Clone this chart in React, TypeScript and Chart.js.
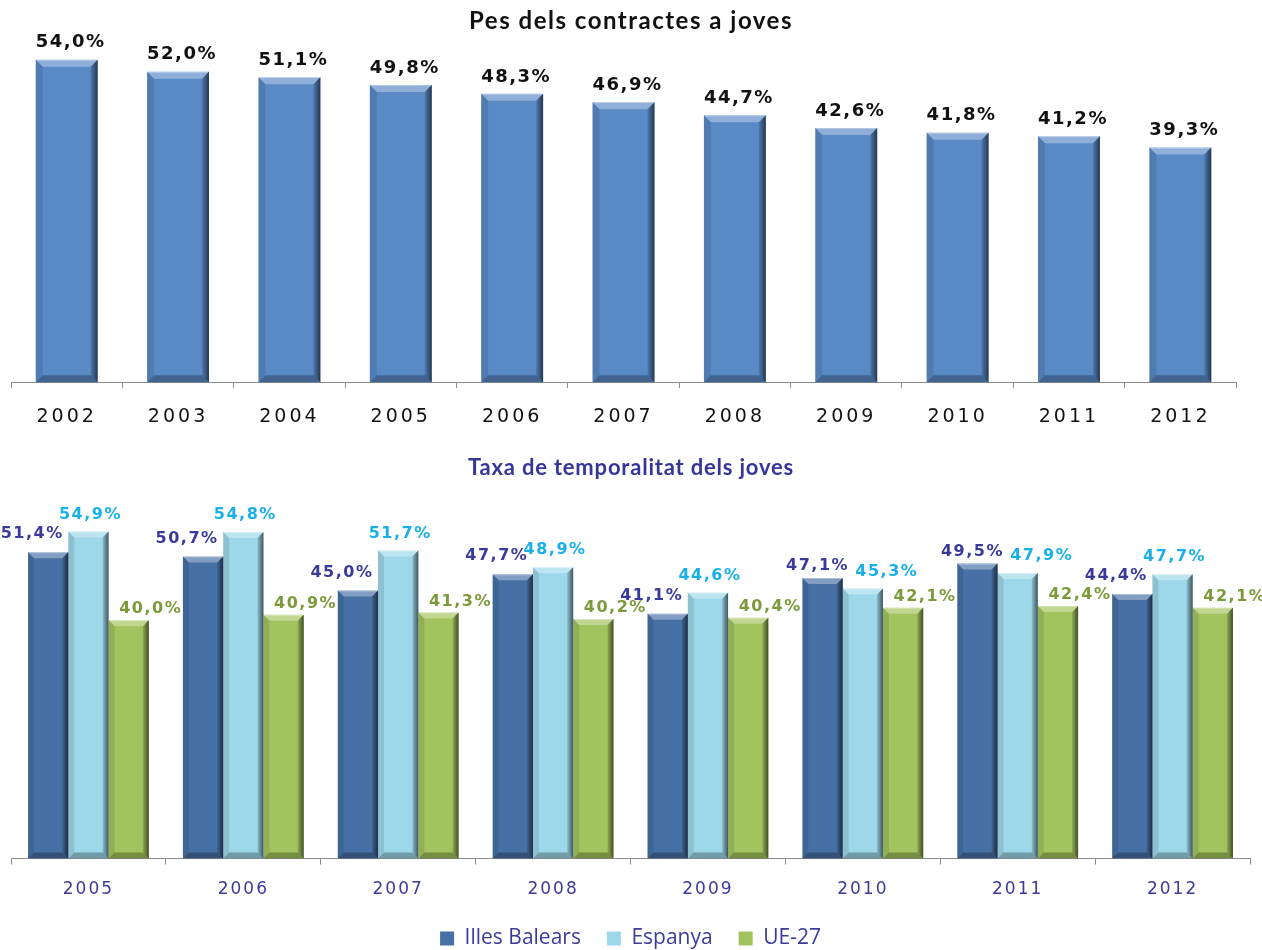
import React, { useEffect, useRef } from "react";
import { Chart, registerables } from "chart.js";

Chart.register(...registerables);

// ---------- data ----------
const title1 = "Pes dels contractes a joves";
const years1 = ["2002", "2003", "2004", "2005", "2006", "2007", "2008", "2009", "2010", "2011", "2012"];
const pesContractes = [54.0, 52.0, 51.1, 49.8, 48.3, 46.9, 44.7, 42.6, 41.8, 41.2, 39.3];

const title2 = "Taxa de temporalitat dels joves";
const years2 = ["2005", "2006", "2007", "2008", "2009", "2010", "2011", "2012"];
const seriesNames = ["Illes Balears", "Espanya", "UE-27"];
const illesBalears = [51.4, 50.7, 45.0, 47.7, 41.1, 47.1, 49.5, 44.4];
const espanya = [54.9, 54.8, 51.7, 48.9, 44.6, 45.3, 47.9, 47.7];
const ue27 = [40.0, 40.9, 41.3, 40.2, 40.4, 42.1, 42.4, 42.1];

const fmt = (v: number) => v.toFixed(1).replace(".", ",") + "%";

function drawBevel(ctx: CanvasRenderingContext2D, el: any, b: number) {
  const p = el.getProps(["x", "y", "base", "width"], true);
  const L = p.x - p.width / 2;
  const R = p.x + p.width / 2;
  const T = Math.min(p.y, p.base);
  const B = Math.max(p.y, p.base);
  if (B - T < 2 * b) return;
  ctx.save();
  // top highlight
  ctx.beginPath();
  ctx.moveTo(L, T); ctx.lineTo(R, T); ctx.lineTo(R - b, T + b); ctx.lineTo(L + b, T + b); ctx.closePath();
  ctx.fillStyle = "rgba(255,255,255,0.32)";
  ctx.fill();
  // left
  ctx.beginPath();
  ctx.moveTo(L, T); ctx.lineTo(L + b, T + b); ctx.lineTo(L + b, B - b); ctx.lineTo(L, B); ctx.closePath();
  ctx.fillStyle = "rgba(0,0,0,0.10)";
  ctx.fill();
  // right
  const g = ctx.createLinearGradient(R - b, 0, R, 0);
  g.addColorStop(0, "rgba(0,0,0,0.12)");
  g.addColorStop(1, "rgba(0,0,0,0.6)");
  ctx.beginPath();
  ctx.moveTo(R, T); ctx.lineTo(R - b, T + b); ctx.lineTo(R - b, B - b); ctx.lineTo(R, B); ctx.closePath();
  ctx.fillStyle = g;
  ctx.fill();
  // bottom
  ctx.beginPath();
  ctx.moveTo(L, B); ctx.lineTo(R, B); ctx.lineTo(R - b, B - b); ctx.lineTo(L + b, B - b); ctx.closePath();
  ctx.fillStyle = "rgba(0,0,0,0.28)";
  ctx.fill();
  // top edge light line
  ctx.strokeStyle = "rgba(255,255,255,0.35)";
  ctx.lineWidth = 1;
  ctx.beginPath();
  ctx.moveTo(L + 1, T + 0.5); ctx.lineTo(R - 1, T + 0.5);
  ctx.stroke();
  ctx.restore();
}

type Cfg = {
  title: string;
  titleColor: string;
  titleFont: string;
  titleSpacing: string;
  titleY: number;
  bevel: number;
  labelFont: string;
  labelSpacing: string;
  labelColors: string[];
  labelOffset: (di: number, i: number) => [number, number];
  tickSpacing: string;
};

function excelPlugin(cfg: Cfg) {
  return {
    id: "excelLook",
    afterDatasetsDraw(chart: any) {
      const ctx: CanvasRenderingContext2D = chart.ctx;
      chart.data.datasets.forEach((ds: any, di: number) => {
        const meta = chart.getDatasetMeta(di);
        meta.data.forEach((el: any) => drawBevel(ctx, el, cfg.bevel));
      });
      ctx.save();
      (ctx as any).letterSpacing = cfg.labelSpacing;
      ctx.font = cfg.labelFont;
      ctx.textAlign = "center";
      ctx.textBaseline = "middle";
      chart.data.datasets.forEach((ds: any, di: number) => {
        const meta = chart.getDatasetMeta(di);
        ctx.fillStyle = cfg.labelColors[di];
        meta.data.forEach((el: any, i: number) => {
          const p = el.getProps(["x", "y"], true);
          const [dx, dy] = cfg.labelOffset(di, i);
          const txt = fmt(ds.data[i]);
          const w = ctx.measureText(txt).width;
          let cx = p.x + dx;
          if (cx - w / 2 < 0) cx = w / 2;
          ctx.fillText(txt, cx, p.y + dy);
        });
      });
      ctx.restore();
      (ctx as any).letterSpacing = cfg.tickSpacing;
    },
    afterDraw(chart: any) {
      const ctx: CanvasRenderingContext2D = chart.ctx;
      (ctx as any).letterSpacing = "0px";
      ctx.save();
      (ctx as any).letterSpacing = cfg.titleSpacing;
      ctx.font = cfg.titleFont;
      ctx.fillStyle = cfg.titleColor;
      ctx.textAlign = "center";
      ctx.textBaseline = "middle";
      ctx.fillText(cfg.title, chart.width / 2, cfg.titleY);
      ctx.restore();
      (ctx as any).letterSpacing = "0px";
    },
  };
}

export default function App() {
  const ref1 = useRef<HTMLCanvasElement>(null);
  const ref2 = useRef<HTMLCanvasElement>(null);

  useEffect(() => {
    const axisGrey = "#8c8c8c";
    const c1 = new Chart(ref1.current!, {
      type: "bar",
      data: {
        labels: years1,
        datasets: [
          {
            label: title1,
            data: pesContractes,
            backgroundColor: "#5a8ac6",
            borderWidth: 0,
            categoryPercentage: 1,
            barPercentage: 0.556,
          },
        ],
      },
      options: {
        animation: false,
        responsive: true,
        maintainAspectRatio: false,
        layout: { padding: { top: 24, left: 11, right: 26, bottom: 0 } },
        plugins: { legend: { display: false }, title: { display: false }, tooltip: { enabled: false } },
        scales: {
          x: {
            afterFit: (s: any) => { s.height -= 17; },
            grid: { display: true, drawOnChartArea: false, drawTicks: true, tickLength: 6, offset: true, color: axisGrey },
            border: { display: true, color: axisGrey, width: 1 },
            ticks: { font: { family: "DejaVu Sans", size: 19 }, color: "#111111", padding: 17, z: 1, maxRotation: 0, autoSkip: false },
          },
          y: { display: false, min: 0, max: 60 },
        },
      },
      plugins: [
        excelPlugin({
          title: title1,
          titleColor: "#111111",
          titleFont: "bold 24px Lato",
          titleSpacing: "1.5px",
          titleY: 21,
          bevel: 7,
          labelFont: "bold 18px 'DejaVu Sans'",
          labelSpacing: "1.5px",
          labelColors: ["#111111"],
          labelOffset: () => [4, -17],
          tickSpacing: "3px",
        }),
      ],
    } as any);

    const c2 = new Chart(ref2.current!, {
      type: "bar",
      data: {
        labels: years2,
        datasets: [
          { label: seriesNames[0], data: illesBalears, backgroundColor: "#4771a6", borderWidth: 0, categoryPercentage: 0.78, barPercentage: 1 },
          { label: seriesNames[1], data: espanya, backgroundColor: "#9dd7ea", borderWidth: 0, categoryPercentage: 0.78, barPercentage: 1 },
          { label: seriesNames[2], data: ue27, backgroundColor: "#a2c35e", borderWidth: 0, categoryPercentage: 0.78, barPercentage: 1 },
        ],
      },
      options: {
        animation: false,
        responsive: true,
        maintainAspectRatio: false,
        layout: { padding: { top: 61, left: 11, right: 12, bottom: 0 } },
        plugins: {
          title: { display: false },
          tooltip: { enabled: false },
          legend: {
            display: true,
            position: "bottom",
            labels: {
              font: { family: "'Open Sans'", size: 21 },
              color: "#3b3b9b",
              boxWidth: 14,
              boxHeight: 14,
              padding: 26,
            },
          },
        },
        scales: {
          x: {
            afterFit: (s: any) => { s.height -= 13; },
            grid: { display: true, drawOnChartArea: false, drawTicks: true, tickLength: 6, offset: true, color: axisGrey },
            border: { display: true, color: axisGrey, width: 1 },
            ticks: { font: { family: "DejaVu Sans", size: 17 }, color: "#3b3b9b", padding: 15, z: 1, maxRotation: 0, autoSkip: false },
          },
          y: { display: false, min: 0, max: 60 },
        },
      },
      plugins: [
        excelPlugin({
          title: title2,
          titleColor: "#35359a",
          titleFont: "bold 22px Lato",
          titleSpacing: "0.8px",
          titleY: 28,
          bevel: 6,
          labelFont: "bold 16px 'DejaVu Sans'",
          labelSpacing: "1.5px",
          labelColors: ["#3a3a9c", "#19b0ea", "#7b9a3a"],
          labelOffset: (di: number, i: number) => {
            if (di === 0) return illesBalears[i] > espanya[i] ? [-5, -12] : [-16, -18];
            if (di === 1) return [espanya[i] < illesBalears[i] ? 24 : 2, -17];
            return [22, -11];
          },
          tickSpacing: "2px",
        }),
      ],
    } as any);

    return () => {
      c1.destroy();
      c2.destroy();
    };
  }, []);

  return (
    <div style={{ position: "fixed", left: 0, top: 0, width: 1262, height: 950, overflow: "hidden", background: "#ffffff" }}>
      <div style={{ position: "absolute", left: 0, top: 0, width: 1262, height: 428 }}>
        <canvas ref={ref1} />
      </div>
      <div style={{ position: "absolute", left: 0, top: 440, width: 1262, height: 519 }}>
        <canvas ref={ref2} />
      </div>
    </div>
  );
}
